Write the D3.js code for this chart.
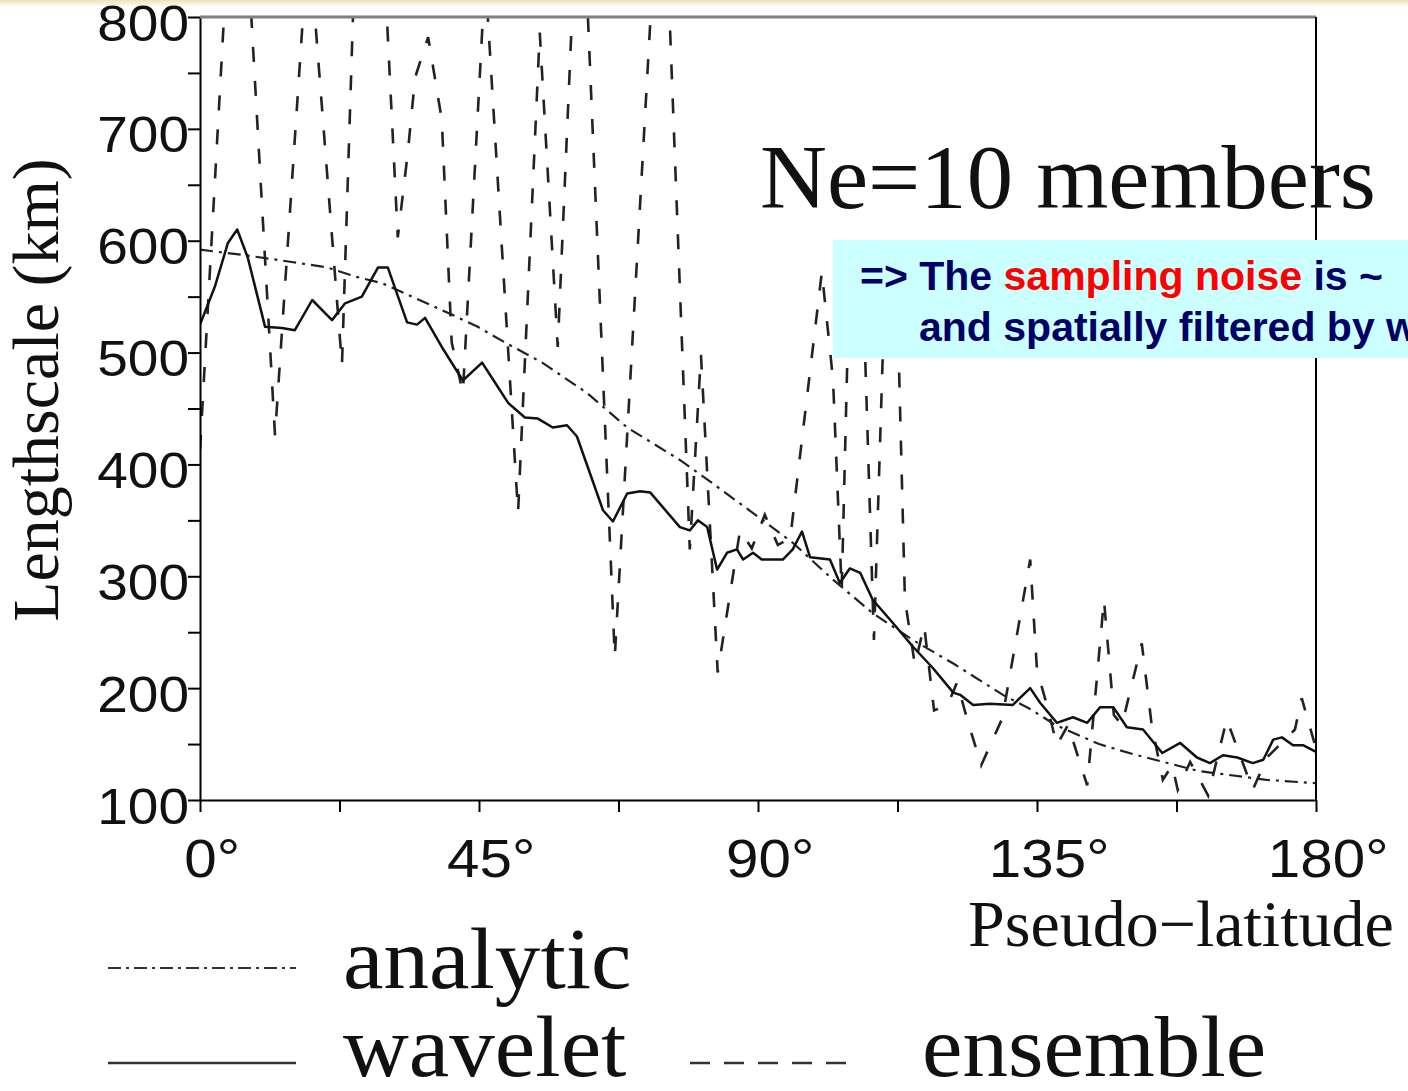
<!DOCTYPE html>
<html>
<head>
<meta charset="utf-8">
<script src="https://cdn.jsdelivr.net/npm/d3@7"></script>
<style>
  body { margin: 0; background: #fff; }
  svg { display: block; }
</style>
</head>
<body>
<svg width="1408" height="1091"></svg>
<script>
// pseudo-latitude (deg) / lengthscale (km)
var analyticLat = [0, 7.3, 14.8, 20.6, 25.0, 29.4, 34.2, 40.6, 44.8, 49.2, 55.2, 62.4, 68.9, 77.4, 82.7, 90.8, 95.6, 102.1, 108.5, 115.0, 121.5, 129.5, 134, 138, 145, 150.5, 161, 172, 180];
var analyticVal = [592, 587, 581, 576, 568, 562, 550, 534, 523, 509, 491, 464, 433, 404, 383, 350, 330, 297, 267, 243, 222, 194, 181, 167, 150, 141, 126, 118, 115];

var waveletLat = [0, 2.4, 4.5, 6.0, 7.7, 10.5, 13.2, 15.3, 18.1, 21.3, 23.4, 26.1, 28.7, 30.3, 33.4, 35.0, 36.3, 39.0, 42.4, 45.5,
  47.6, 49.7, 52.4, 54.5, 56.9, 59.2, 60.8, 65.0, 66.6, 68.9, 71.0, 72.6, 77.4, 79.0, 80.3, 81.8, 83.4, 85.0, 86.6, 87.6,
  89.2, 90.6, 92.4, 94.0, 95.6, 97.1, 98.4, 101.6, 103.2, 104.8, 106.5, 108.5, 111.8, 115.0, 118.2, 121.5, 122.6, 124.7, 127.4, 131.1,
  133.9, 135.5, 138.2, 140.8, 143.1, 145.2, 147.3, 149.5, 152.1, 155.2, 158.1, 160.8, 162.9, 165.0, 167.3, 169.8, 171.5, 173.1, 174.5, 176.3,
  177.9, 180];
var waveletVal = [525, 559, 598, 610, 585, 523, 522, 520, 547, 529, 544, 550, 576, 576, 527, 525, 531, 505, 475, 491,
  473, 455, 442, 441, 433, 435, 425, 359, 349, 374, 376, 375, 344, 341, 350, 344, 306, 321, 324, 315,
  321, 315, 315, 315, 324, 340, 317, 315, 294, 307, 303, 279, 258, 237, 218, 196, 194, 185, 186, 185,
  200, 187, 169, 174, 169, 183, 183, 165, 163, 142, 151, 138, 133, 140, 138, 133, 136, 154, 156, 149,
  149, 143];

var ensembleLat = [0, 6.05, 12.1, 17.5, 22.9, 26.8, 31.9, 33.5, 34.7, 36.8, 39.0, 40.6, 42.4, 46.0, 51.3, 54.8, 57.7, 61.3, 66.9, 74.5,
  79.0, 80.8, 83.5, 87.1, 89.0, 91.1, 93.2, 95.2, 100.3, 102.1, 103.5, 104.8, 106.8, 108.7, 110.6, 112.3, 113.7, 115.3, 116.8, 118.4,
  120.6, 122.1, 123.7, 126.0, 129.4, 133.9, 135.0, 136.6, 138.2, 140.0, 143.1, 145.8, 147.4, 148.7, 151.9, 153.5, 155.3, 156.8, 157.7, 159.7,
  162.6, 165.6, 169.8, 172.1, 176.6, 177.7, 180];
var ensembleVal = [413, 1018, 426, 874, 489, 1173, 603, 678, 746, 782, 708, 509, 464, 838, 357, 786, 505, 967, 228, 981,
  324, 498, 214, 341, 325, 355, 328, 334, 572, 476, 288, 583, 583, 243, 583, 583, 279, 221, 256, 180,
  185, 205, 173, 131, 173, 315, 216, 185, 149, 167, 113, 279, 176, 167, 240, 167, 118, 131, 109, 134,
  104, 172, 109, 138, 163, 191, 146];

var yTicks = d3.range(100, 801, 50);
var xTicks = d3.range(0, 181, 22.5);

var svg = d3.select("svg"),
    width = +svg.attr("width"),
    height = +svg.attr("height"),
    margin = {top: 17, right: 92, bottom: 291, left: 200};

var x = d3.scaleLinear().domain([0, 180]).range([margin.left, width - margin.right]);
var y = d3.scaleLinear().domain([100, 800]).range([height - margin.bottom, margin.top]);

var sans = "'Liberation Sans', Arial, Helvetica, sans-serif",
    serif = "'Liberation Serif', 'Times New Roman', Times, serif";

// slide strip at the very top
var defs = svg.append("defs");
var grad = defs.append("linearGradient").attr("id", "strip").attr("x1", 0).attr("x2", 0).attr("y1", 0).attr("y2", 1);
grad.append("stop").attr("offset", "0%").attr("stop-color", "#ece2b8");
grad.append("stop").attr("offset", "100%").attr("stop-color", "#ffffff");
svg.append("rect").attr("x", 0).attr("y", 0).attr("width", width).attr("height", 7).attr("fill", "url(#strip)");

defs.append("clipPath").attr("id", "plot")
  .append("rect")
    .attr("x", x(0)).attr("y", y(800))
    .attr("width", x(180) - x(0)).attr("height", y(100) - y(800));

function pts(lat, val) {
  return lat.map(function(d, i) { return [d, val[i]]; });
}

var line = d3.line()
    .x(function(d) { return x(d[0]); })
    .y(function(d) { return y(d[1]); });

var g = svg.append("g").attr("clip-path", "url(#plot)");

g.append("path")
    .datum(pts(ensembleLat, ensembleVal))
    .attr("fill", "none")
    .attr("stroke", "#222")
    .attr("stroke-width", 2.6)
    .attr("stroke-dasharray", "15,19")
    .attr("d", line);

g.append("path")
    .datum(pts(analyticLat, analyticVal))
    .attr("fill", "none")
    .attr("stroke", "#222")
    .attr("stroke-width", 2.2)
    .attr("stroke-dasharray", "13,6,3,6")
    .attr("d", line);

g.append("path")
    .datum(pts(waveletLat, waveletVal))
    .attr("fill", "none")
    .attr("stroke", "#111")
    .attr("stroke-width", 2.5)
    .attr("stroke-linejoin", "round")
    .attr("d", line);

// axes
var yAxis = svg.append("g")
    .attr("transform", "translate(" + x(0) + ",0)")
    .call(d3.axisLeft(y).tickValues(yTicks)
      .tickFormat(function(d) { return d % 100 ? "" : d; })
      .tickSize(12).tickSizeOuter(0).tickPadding(0));
yAxis.attr("font-size", 50).attr("font-family", sans);
yAxis.selectAll("text")
    .attr("fill", "#111")
    .attr("x", 0)
    .attr("dy", "0.46em")
    .attr("transform", "translate(-11,0) scale(1.1,1)");
yAxis.selectAll("line, path").attr("stroke", "#000").attr("stroke-width", 2);

var xAxis = svg.append("g")
    .attr("transform", "translate(0," + y(100) + ")")
    .call(d3.axisBottom(x).tickValues(xTicks)
      .tickFormat(function(d) { return d % 45 ? "" : d + "°"; })
      .tickSize(12).tickSizeOuter(0).tickPadding(27));
xAxis.attr("font-size", 54).attr("font-family", sans);
xAxis.selectAll("text")
    .attr("fill", "#111")
    .attr("dx", "0.2em")
    .attr("transform", "scale(1.08,1)");
xAxis.selectAll("line, path").attr("stroke", "#000").attr("stroke-width", 2);

// frame top and right
svg.append("line")
    .attr("x1", x(0)).attr("x2", x(180)).attr("y1", y(800)).attr("y2", y(800))
    .attr("stroke", "#808080").attr("stroke-width", 3);
svg.append("line")
    .attr("x1", x(180)).attr("x2", x(180)).attr("y1", y(800)).attr("y2", y(100))
    .attr("stroke", "#000").attr("stroke-width", 2);

// titles
svg.append("text")
    .attr("transform", "translate(58,390) rotate(-90)")
    .attr("text-anchor", "middle")
    .attr("font-family", serif)
    .attr("font-size", 66)
    .attr("fill", "#111")
    .text("Lengthscale (km)");

svg.append("text")
    .attr("transform", "translate(968,946)")
    .attr("font-family", serif)
    .attr("font-size", 66)
    .attr("fill", "#111")
    .text("Pseudo\u2212latitude");

svg.append("text")
    .attr("transform", "translate(760,208) scale(1.03,1)")
    .attr("font-family", serif)
    .attr("font-size", 90)
    .attr("fill", "#111")
    .text("Ne=10 members");

// legend
var legend = [
  {name: "analytic", x1: 108, x2: 296, y: 968, tx: 343, ty: 988, dash: "13,5,3,5", w: 2},
  {name: "wavelet", x1: 108, x2: 296, y: 1063, tx: 343, ty: 1076, dash: null, w: 2.6},
  {name: "ensemble", x1: 690, x2: 858, y: 1063, tx: 922, ty: 1076, dash: "20,14", w: 2.6}
];
var lg = svg.append("g");
lg.selectAll("line").data(legend).enter().append("line")
    .attr("x1", function(d) { return d.x1; })
    .attr("x2", function(d) { return d.x2; })
    .attr("y1", function(d) { return d.y; })
    .attr("y2", function(d) { return d.y; })
    .attr("stroke", "#333")
    .attr("stroke-width", function(d) { return d.w; })
    .attr("stroke-dasharray", function(d) { return d.dash; });
lg.selectAll("text").data(legend).enter().append("text")
    .attr("transform", function(d) { return "translate(" + d.tx + "," + d.ty + ") scale(1.06,1)"; })
    .attr("font-family", serif)
    .attr("font-size", 86)
    .attr("fill", "#111")
    .text(function(d) { return d.name; });

// annotation box
svg.append("rect")
    .attr("x", 833).attr("y", 240)
    .attr("width", 600).attr("height", 118)
    .attr("fill", "#ccffff");

var note = svg.append("text")
    .attr("font-family", sans)
    .attr("font-weight", "bold")
    .attr("font-size", 41)
    .attr("fill", "#000066");
var l1 = note.append("tspan").attr("x", 860).attr("y", 290);
l1.append("tspan").text("=> The ");
l1.append("tspan").attr("fill", "#ff0000").text("sampling noise");
l1.append("tspan").text(" is ~");
note.append("tspan").attr("x", 919).attr("y", 341).text("and spatially filtered by w");
</script>
</body>
</html>
